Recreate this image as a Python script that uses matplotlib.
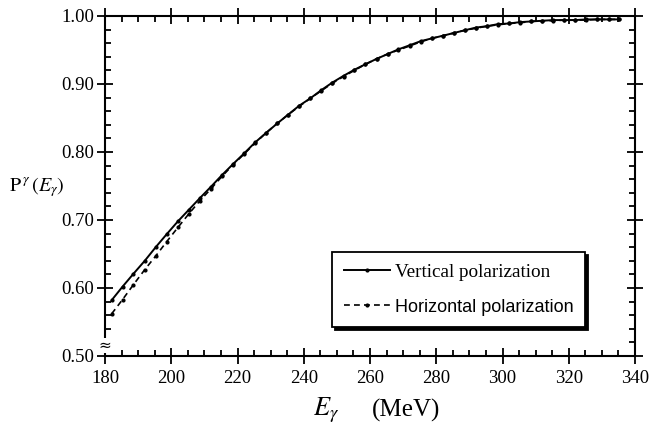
import matplotlib
matplotlib.use("Agg")
import matplotlib.pyplot as plt
from matplotlib.ticker import MultipleLocator, FormatStrFormatter

# Photon energy grid (MeV)
energy = [182.0, 185.3, 188.6, 192.0, 195.3, 198.6, 202.0, 205.3, 208.6, 212.0,
          215.3, 218.6, 222.0, 225.3, 228.6, 232.0, 235.3, 238.6, 242.0, 245.3,
          248.6, 252.0, 255.3, 258.6, 262.0, 265.3, 268.6, 272.0, 275.3, 278.6,
          282.0, 285.3, 288.6, 292.0, 295.3, 298.6, 302.0, 305.3, 308.6, 312.0,
          315.3, 318.6, 322.0, 325.3, 328.6, 332.0, 335.3]

# Polarization for vertically polarized beam
p_vertical = [0.582, 0.602, 0.621, 0.640, 0.660, 0.679, 0.698, 0.715, 0.732, 0.749,
              0.766, 0.782, 0.798, 0.814, 0.828, 0.842, 0.855, 0.868, 0.879, 0.891,
              0.902, 0.912, 0.921, 0.929, 0.937, 0.944, 0.951, 0.957, 0.963, 0.967,
              0.971, 0.975, 0.979, 0.983, 0.985, 0.988, 0.989, 0.991, 0.992, 0.993,
              0.994, 0.994, 0.994, 0.995, 0.995, 0.995, 0.995]

# Polarization for horizontally polarized beam
p_horizontal = [0.562, 0.583, 0.605, 0.627, 0.647, 0.668, 0.689, 0.709, 0.728, 0.746,
                0.764, 0.781, 0.797, 0.813, 0.828, 0.842, 0.855, 0.867, 0.879, 0.890,
                0.901, 0.911, 0.920, 0.929, 0.937, 0.944, 0.950, 0.956, 0.962, 0.967,
                0.971, 0.975, 0.979, 0.982, 0.985, 0.987, 0.989, 0.990, 0.992, 0.993,
                0.993, 0.994, 0.994, 0.994, 0.995, 0.995, 0.995]

serif = "Liberation Serif"
plt.rcParams["mathtext.fontset"] = "stix"

fig = plt.figure(figsize=(6.49, 4.28), dpi=100)
ax = fig.add_axes([105 / 649, 1 - 356 / 428, 530 / 649, 340 / 428])

ax.plot(energy, p_vertical, color="black", lw=1.4, ls="-",
        marker=".", ms=4, label="Vertical polarization")
ax.plot(energy, p_horizontal, color="black", lw=1.2, ls=(0, (3.5, 2.5)),
        marker=".", ms=4, label="Horizontal polarization")

ax.set_xlim(180, 340)
ax.set_ylim(0.50, 1.00)
ax.xaxis.set_major_locator(MultipleLocator(20))
ax.xaxis.set_minor_locator(MultipleLocator(5))
ax.yaxis.set_major_locator(MultipleLocator(0.1))
ax.yaxis.set_minor_locator(MultipleLocator(0.02))
ax.yaxis.set_major_formatter(FormatStrFormatter("%.2f"))

for s in ax.spines.values():
    s.set_linewidth(1.5)
ax.tick_params(which="major", direction="inout", length=11.5, width=1.3,
               top=True, right=True, labelsize=13.5, pad=2)
ax.tick_params(which="minor", direction="in", length=4, width=1.3,
               top=True, right=True)
ax.tick_params(axis="x", which="major", pad=4)
for lab in ax.get_xticklabels() + ax.get_yticklabels():
    lab.set_family(serif)

# Axis break mark at the origin of the vertical axis
ax.text(0.0, 0.03, "\u2248", transform=ax.transAxes, ha="center", va="center",
        fontsize=11, family="DejaVu Sans", rotation=0,
        bbox=dict(boxstyle="square,pad=0.0", fc="white", ec="none"))

fig.text(9 / 649, 1 - 187 / 428, r"$\mathrm{P}^{\,\gamma}\,(E_\gamma)$",
         fontsize=14.5, ha="left", va="center")
fig.text(313 / 649, 1 - 410 / 428, r"$E_\gamma$", fontsize=19,
         ha="left", va="center")
fig.text(372 / 649, 1 - 410 / 428, "(MeV)", fontsize=18, family=serif,
         ha="left", va="center")

leg = ax.legend(loc="upper left", bbox_to_anchor=((332 - 105) / 530, (356 - 252) / 340),
                borderaxespad=0, frameon=True, fancybox=False, framealpha=1,
                edgecolor="black", shadow={"color": "black", "alpha": 1},
                handlelength=2.4, handletextpad=0.3, borderpad=0.6,
                labelspacing=0.9, prop={"family": serif, "size": 13.8})
leg.get_frame().set_linewidth(1.3)
leg.get_texts()[1].set_family("Liberation Sans")
leg.get_texts()[1].set_fontsize(13)

fig.savefig("out.png", dpi=100)
